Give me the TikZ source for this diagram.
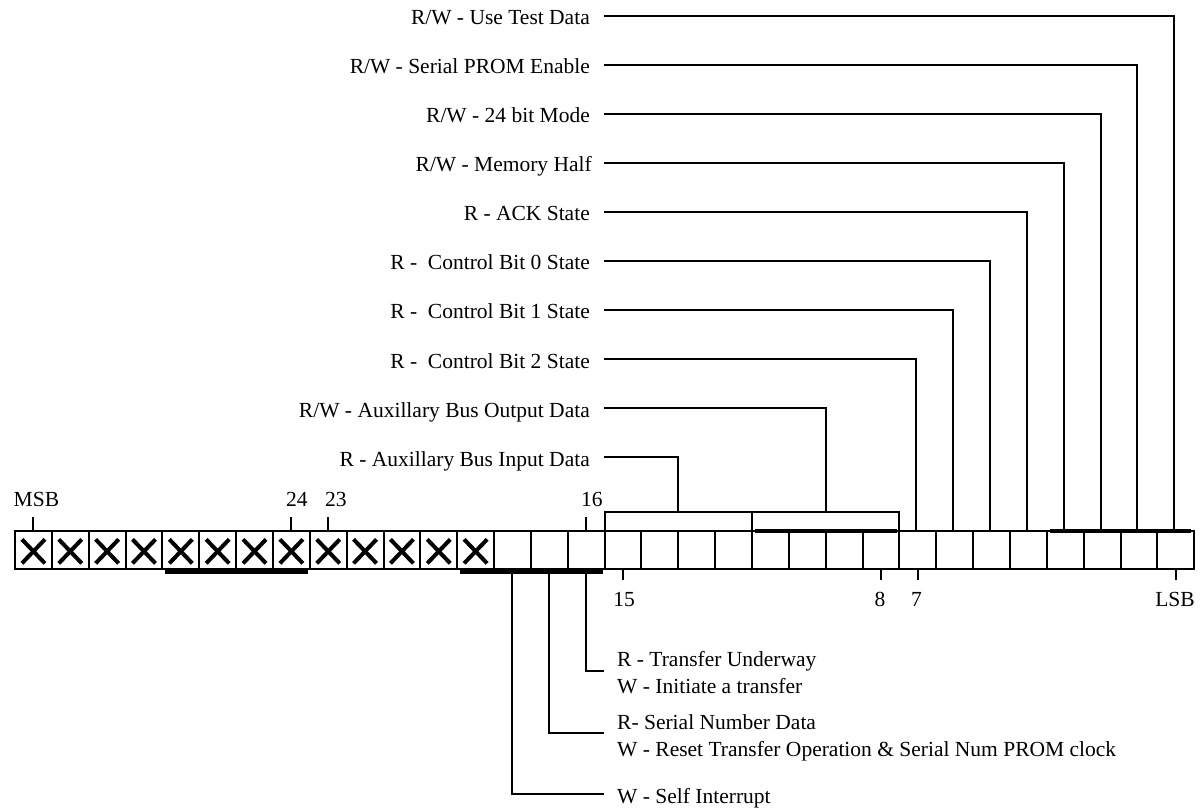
\documentclass[tikz,border=0pt]{standalone}
\usepackage{fontspec}
\setmainfont{Liberation Serif}
\begin{document}
\begin{tikzpicture}[x=1pt,y=-1pt,
  font=\fontsize{21.5}{26.7}\selectfont,
  cell/.style={draw,line width=2pt,minimum width=36.85pt,minimum height=38.3pt,inner sep=0pt,outer sep=0pt},
  grp/.style={draw,line width=2pt,minimum width=147.4pt,minimum height=19pt,inner sep=0pt,outer sep=0pt},
  lead/.style={line width=2pt},
  bar/.style={line width=4pt},
  xmark/.style={line width=4pt},
  lab/.style={inner sep=0pt,anchor=base east},
  txt/.style={inner sep=0pt,anchor=base west},
  num/.style={inner sep=0pt,anchor=base}]
\useasboundingbox (0,0) rectangle (1203,807);
% register cells
\foreach \i in {0,...,31}{
  \pgfmathtruncatemacro\b{31-\i}
  \node[cell] (c\b) at ({15+(\i+0.5)*36.85},549.85) {};
}
% crosses on unused bits
\foreach \b in {31,...,19}{
  \draw[xmark] ([xshift=-11.5pt,yshift=10.5pt]c\b.center) -- ([xshift=11.5pt,yshift=-13.5pt]c\b.center);
  \draw[xmark] ([xshift=-11.5pt,yshift=-13.5pt]c\b.center) -- ([xshift=11.5pt,yshift=10.5pt]c\b.center);
}
% group boxes above bits 15-12 and 11-8
\node[grp] (g15) at ({15+18*36.85},521.2) {};
\node[grp] (g11) at ({15+22*36.85},521.2) {};
% thick bars
\draw[bar] ([xshift=3pt,yshift=-2.6pt]c27.south west) -- ([xshift=-2pt,yshift=-2.6pt]c24.south east);
\draw[bar] ([xshift=3pt,yshift=-2.6pt]c19.south west) -- ([xshift=-2pt,yshift=-2.6pt]c16.south east);
\draw[bar] ([xshift=3pt]c11.north west) -- ([xshift=-2pt]c8.north east);
\draw[bar] ([xshift=3pt]c3.north west) -- ([xshift=-3pt]c0.north east);
% ticks and bit numbers
\draw[lead] (c31.north) -- ++(0,-13.4);
\draw[lead] (c24.north) -- ++(0,-13.4);
\draw[lead] (c23.north) -- ++(0,-13.4);
\draw[lead] (c16.north) -- ++(0,-13.4);
\draw[lead] (c15.south) -- ++(0,11);
\draw[lead] (c8.south) -- ++(0,11);
\draw[lead] (c7.south) -- ++(0,11);
\draw[lead] (c0.south) -- ++(0,11);
\node[txt] (nmsb) at (13.5,506) {MSB};
\node[txt] (n24) at (286,506) {24};
\node[txt] (n23) at (325,506) {23};
\node[txt] (n16) at (581,506) {16};
\node[num] (n15) at (624,606.7) {15};
\node[num] (n8) at (880,606.7) {8};
\node[num] (n7) at (916.5,606.7) {7};
\node[num] (nlsb) at (1175,606.7) {LSB};
% upper labels
\node[lab] (l0) at (590,24.5) {R/W - Use Test Data};
\node[lab] (l1) at (590,73.6) {R/W - Serial PROM Enable};
\node[lab] (l2) at (590,122.6) {R/W - 24 bit Mode};
\node[lab] (l3) at (592,171.7) {R/W - Memory Half};
\node[lab] (l4) at (590,220.8) {R - ACK State};
\node[lab] (l5) at (590,269.9) {R - \ Control Bit 0 State\ };
\node[lab] (l6) at (590,318.9) {R - \ Control Bit 1 State\ };
\node[lab] (l7) at (590,368.0) {R - \ Control Bit 2 State\ };
\node[lab] (l11) at (590,417.1) {R/W - Auxillary Bus Output Data};
\node[lab] (l15) at (590,466.1) {R - Auxillary Bus Input Data};
\coordinate (s0) at (604,16);
\coordinate (s1) at (604,65);
\coordinate (s2) at (604,114);
\coordinate (s3) at (604,163);
\coordinate (s4) at (604,212);
\coordinate (s5) at (604,261);
\coordinate (s6) at (604,310);
\coordinate (s7) at (604,359);
\coordinate (s11) at (604,408);
\coordinate (s15) at (604,457);
\foreach \b in {0,...,7}{
  \draw[lead] (s\b) -| ([xshift=-1.5pt]c\b.north);
}
\draw[lead] (s11) -| (g11.north);
\draw[lead] (s15) -| (g15.north);
% lower labels
\coordinate (t16) at (604,671);
\coordinate (t17) at (604,733);
\coordinate (t18) at (604,794);
\draw[lead] ([yshift=-2.6pt]c16.south) |- (t16);
\draw[lead] ([yshift=-2.6pt]c17.south) |- (t17);
\draw[lead] ([yshift=-2.6pt]c18.south) |- (t18);
\node[txt] (b16a) at (617,666.7) {R - Transfer Underway};
\node[txt] (b16b) at (617,693.3) {W - Initiate a transfer};
\node[txt] (b17a) at (617,729.3) {R- Serial Number Data};
\node[txt] (b17b) at (617,756) {W - Reset Transfer Operation \& Serial Num PROM clock};
\node[txt] (b18) at (617,803.3) {W - Self Interrupt};
\end{tikzpicture}
\end{document}
